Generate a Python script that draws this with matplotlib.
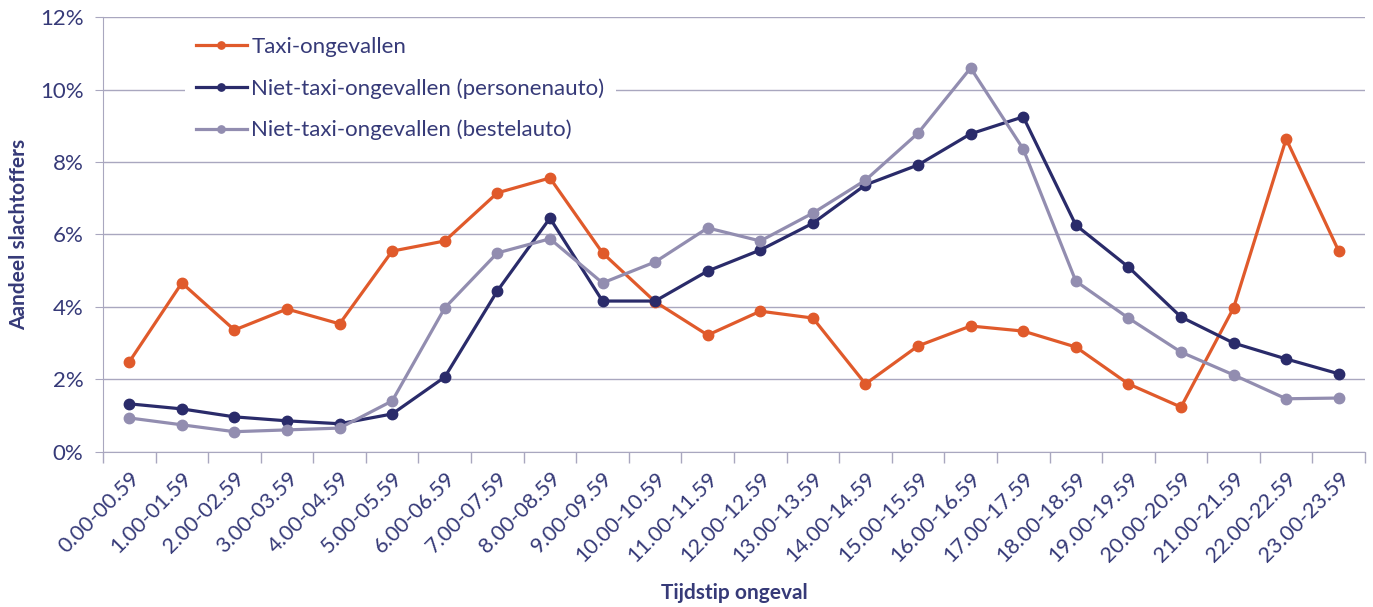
import matplotlib
matplotlib.use("Agg")
import matplotlib.pyplot as plt
from matplotlib.ticker import FixedLocator, PercentFormatter

# Data (percent of victims per hour)
hours = [f"{h}.00-{h:02d}.59" for h in range(24)]
taxi = [2.48, 4.66, 3.36, 3.94, 3.53, 5.54, 5.82, 7.15, 7.56, 5.49, 4.14, 3.22,
        3.88, 3.69, 1.87, 2.92, 3.47, 3.33, 2.89, 1.87, 1.23, 3.97, 8.64, 5.54]
personenauto = [1.32, 1.18, 0.96, 0.85, 0.77, 1.04, 2.06, 4.44, 6.45, 4.16, 4.16, 4.99,
                5.57, 6.31, 7.37, 7.92, 8.78, 9.25, 6.26, 5.10, 3.72, 3.00, 2.56, 2.15]
bestelauto = [0.93, 0.74, 0.55, 0.60, 0.65, 1.40, 3.97, 5.49, 5.88, 4.66, 5.24, 6.18,
              5.82, 6.59, 7.50, 8.80, 10.60, 8.36, 4.71, 3.69, 2.75, 2.12, 1.46, 1.48]

series = [
    ("Taxi-ongevallen", taxi, "#E05A2B"),
    ("Niet-taxi-ongevallen (personenauto)", personenauto, "#2A2B6A"),
    ("Niet-taxi-ongevallen (bestelauto)", bestelauto, "#928DB0"),
]

text_col = "#363A78"
grid_col = "#A9A7BF"

plt.rcParams["font.family"] = ["Lato", "DejaVu Sans"]

fig = plt.figure(figsize=(13.73, 6.07), dpi=100)
ax = fig.add_axes([0.075, 0.256, 0.9192, 0.7155])

x = list(range(len(hours)))
for label, vals, col in series:
    ax.plot(x, vals, color=col, lw=2.3, marker="o", ms=7.5, label=label)

ax.set_xlim(-0.5, 23.5)
ax.set_ylim(0, 12)
ax.yaxis.set_major_locator(FixedLocator([0, 2, 4, 6, 8, 10, 12]))
ax.yaxis.set_major_formatter(PercentFormatter(decimals=0))
ax.grid(axis="y", color=grid_col, lw=1)
ax.set_axisbelow(True)

ax.set_xticks(x)
ax.set_xticklabels(hours, rotation=45, ha="right", rotation_mode="anchor")
ax.set_xticks([i - 0.5 for i in range(25)], minor=True)
ax.tick_params(axis="x", which="major", length=0, pad=12, labelsize=15.5, labelcolor=text_col)
ax.tick_params(axis="x", which="minor", length=8, color=grid_col, width=1)
ax.tick_params(axis="y", length=6, color=grid_col, labelsize=16, labelcolor=text_col, pad=8)

for side in ["top", "right"]:
    ax.spines[side].set_visible(False)
for side in ["left", "bottom"]:
    ax.spines[side].set_color(grid_col)

ax.set_ylabel("Aandeel slachtoffers", fontsize=15, fontweight="bold", color=text_col, labelpad=8)
ax.set_xlabel("Tijdstip ongeval", fontsize=15, fontweight="bold", color=text_col, labelpad=12)

leg = ax.legend(loc="upper left", bbox_to_anchor=(0.056, 1.006), frameon=True,
                facecolor="white", edgecolor="none", framealpha=1, fancybox=False,
                fontsize=16, labelspacing=0.95, handlelength=2.3, handletextpad=0.2,
                borderpad=0.5, markerscale=0.7)
for t in leg.get_texts():
    t.set_color(text_col)

fig.savefig("out.png", dpi=100)
